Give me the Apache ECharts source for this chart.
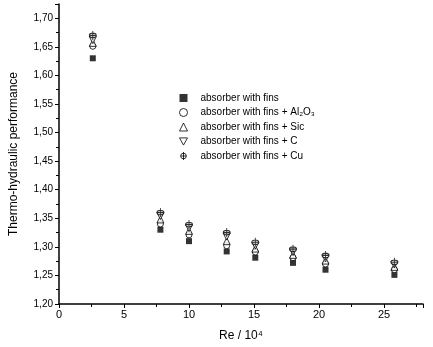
<!DOCTYPE html>
<html>
<head>
<meta charset="utf-8">
<script src="https://cdn.jsdelivr.net/npm/echarts@6/dist/echarts.min.js"></script>
<style>
  html, body { margin: 0; padding: 0; background: #fff; }
  #main { width: 433px; height: 347px; }
</style>
</head>
<body>
<div id="main"></div>
<script>
var re = [2.6, 7.8, 10.0, 12.9, 15.1, 18.0, 20.5, 25.8];
var finsOnly = [1.630, 1.330, 1.310, 1.292, 1.281, 1.272, 1.260, 1.251];
var finsAl2O3 = [1.651, 1.340, 1.321, 1.302, 1.291, 1.281, 1.270, 1.260];
var finsSic = [1.657, 1.348, 1.328, 1.310, 1.297, 1.286, 1.276, 1.265];
var finsC = [1.662, 1.354, 1.333, 1.318, 1.302, 1.291, 1.280, 1.269];
var finsCu = [1.670, 1.360, 1.339, 1.325, 1.308, 1.296, 1.285, 1.273];

var names = [
  'absorber with fins',
  'absorber with fins + Al\u2082O\u2083',
  'absorber with fins + Sic',
  'absorber with fins + C',
  'absorber with fins + Cu'
];

var chartDom = document.getElementById('main');
var myChart = echarts.init(chartDom);

function pairs(ys) {
  return re.map(function (x, i) { return [x, ys[i]]; });
}

var hollow = { color: '#fff', borderColor: '#000', borderWidth: 1 };
var downTri = 'path://M0 0L10 0L5 9Z';
var cuSymbol = 'path://M5 0L5 12M2 6L8 6M5 3A3 3 0 1 0 5 9A3 3 0 1 0 5 3Z';
var cuIcon = 'path://M5 0L5 10M1.5 5L8.5 5M5 1.5A3.5 3.5 0 1 0 5 8.5A3.5 3.5 0 1 0 5 1.5Z';
var symbols = ['rect', 'circle', 'triangle', downTri, cuSymbol];
var icons = ['path://M1 1L9 1L9 9L1 9Z', 'circle', 'triangle', downTri, cuIcon];

var option = {
  animation: false,
  grid: { left: 53, right: 10, top: 4, bottom: 43 },
  legend: {
    left: 174,
    top: 88,
    orient: 'vertical',
    itemGap: 4.5,
    itemWidth: 8,
    itemHeight: 8,
    textStyle: {
      fontFamily: 'Liberation Sans, Arial',
      fontSize: 10,
      color: '#000',
      padding: [0, 0, 0, 8]
    },
    data: names.map(function (n, i) {
      return {
        name: n,
        icon: icons[i],
        itemStyle: i === 0 ? { color: '#000', borderWidth: 0 } : hollow
      };
    })
  },
  xAxis: {
    type: 'value',
    min: 0,
    max: 28,
    interval: 5,
    name: 'Re / 10\u2074',
    nameLocation: 'middle',
    nameGap: 26,
    nameTextStyle: { fontFamily: 'Liberation Sans, Arial', fontSize: 12, color: '#000' },
    axisLine: { lineStyle: { color: '#000', width: 1.5 } },
    axisTick: { inside: false, length: 4, lineStyle: { color: '#000' } },
    minorTick: { show: true, splitNumber: 2, length: 3, lineStyle: { color: '#000' } },
    axisLabel: {
      showMaxLabel: false,
      margin: 5,
      fontFamily: 'Liberation Sans, Arial',
      fontSize: 11,
      color: '#000'
    },
    splitLine: { show: false }
  },
  yAxis: {
    type: 'value',
    min: 1.2,
    max: 1.725,
    interval: 0.05,
    name: 'Thermo-hydraulic performance',
    nameLocation: 'middle',
    nameGap: 39,
    nameTextStyle: { fontFamily: 'Liberation Sans, Arial', fontSize: 12, color: '#000' },
    axisLine: { show: true, lineStyle: { color: '#000', width: 1.5 } },
    axisTick: { show: true, length: 4, lineStyle: { color: '#000' } },
    minorTick: { show: true, splitNumber: 2, length: 3, lineStyle: { color: '#000' } },
    axisLabel: {
      showMaxLabel: false,
      margin: 6,
      fontFamily: 'Liberation Sans, Arial',
      fontSize: 10,
      color: '#000',
      formatter: function (v) { return v.toFixed(2).replace('.', ','); }
    },
    splitLine: { show: false }
  },
  series: [
    {
      name: names[0], type: 'scatter', data: pairs(finsOnly),
      symbol: symbols[0], symbolSize: 6, itemStyle: { color: '#000' }
    },
    {
      name: names[1], type: 'scatter', data: pairs(finsAl2O3),
      symbol: symbols[1], symbolSize: 6, itemStyle: hollow
    },
    {
      name: names[2], type: 'scatter', data: pairs(finsSic),
      symbol: symbols[2], symbolSize: 7, itemStyle: hollow
    },
    {
      name: names[3], type: 'scatter', data: pairs(finsC),
      symbol: symbols[3], symbolSize: 7, itemStyle: hollow
    },
    {
      name: names[4], type: 'scatter', data: pairs(finsCu),
      symbol: symbols[4], symbolSize: [7, 9], itemStyle: hollow
    }
  ]
};

myChart.setOption(option);
</script>
</body>
</html>
